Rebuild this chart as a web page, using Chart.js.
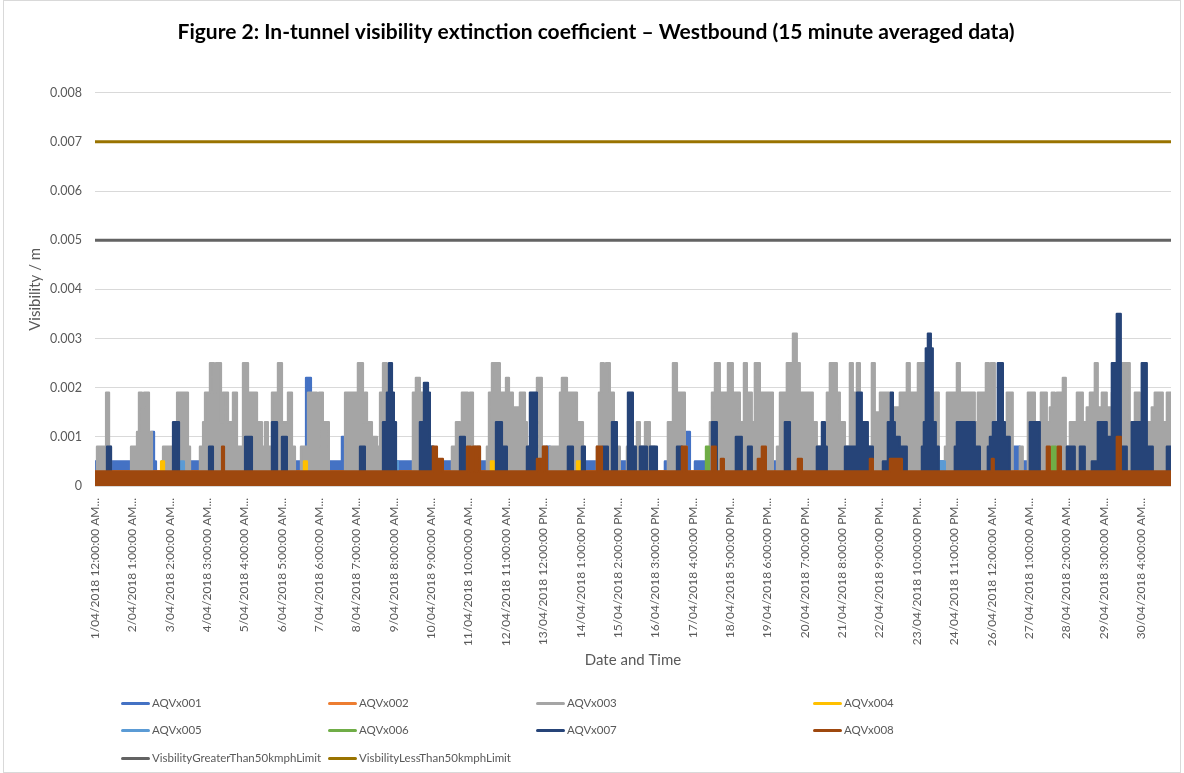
<!DOCTYPE html>
<html>
<head>
<meta charset="UTF-8">
<title>Figure 2</title>
<script src="https://cdn.jsdelivr.net/npm/chart.js@4.4.1/dist/chart.umd.min.js"></script>
<style>
	body{margin:0;background:#fff;}
	#wrap{position:relative;width:1184px;height:773px;}
	#frame{position:absolute;left:3px;top:0;width:1176px;height:771px;border:1px solid #d9d9d9;}
	#myChart{position:absolute;left:0;top:0;}
	#legend{position:absolute;left:0;top:0;font-family:Lato;font-size:11.5px;color:#595959;}
	#legend .item{position:absolute;white-space:nowrap;line-height:14px;height:14px;}
	#legend .item i{display:inline-block;width:29px;height:3px;border-radius:2px;vertical-align:middle;margin-right:2px;margin-top:-2px;}
</style>
</head>
<body>
<div id="wrap">
	<div id="frame"></div>
	<canvas id="myChart" width="1184" height="773"></canvas>
	<div id="legend"></div>
</div>
<script>
	// x = hours since 1/04/2018 12:00 AM, each pair = [hour, value] held until the next pair
	var tickLabels = ["1/04/2018 12:00:00 AM...","2/04/2018 1:00:00 AM...","3/04/2018 2:00:00 AM...","4/04/2018 3:00:00 AM...",
		"5/04/2018 4:00:00 AM...","6/04/2018 5:00:00 AM...","7/04/2018 6:00:00 AM...","8/04/2018 7:00:00 AM...",
		"9/04/2018 8:00:00 AM...","10/04/2018 9:00:00 AM...","11/04/2018 10:00:00 AM...","12/04/2018 11:00:00 AM...",
		"13/04/2018 12:00:00 PM...","14/04/2018 1:00:00 PM...","15/04/2018 2:00:00 PM...","16/04/2018 3:00:00 PM...",
		"17/04/2018 4:00:00 PM...","18/04/2018 5:00:00 PM...","19/04/2018 6:00:00 PM...","20/04/2018 7:00:00 PM...",
		"21/04/2018 8:00:00 PM...","22/04/2018 9:00:00 PM...","23/04/2018 10:00:00 PM...","24/04/2018 11:00:00 PM...",
		"26/04/2018 12:00:00 AM...","27/04/2018 1:00:00 AM...","28/04/2018 2:00:00 AM...","29/04/2018 3:00:00 AM...",
		"30/04/2018 4:00:00 AM..."];
	var seriesNames = ["AQVx001","AQVx002","AQVx003","AQVx004","AQVx005","AQVx006","AQVx007","AQVx008"];
	var endHour = 720;

	var aqv001 = [[0,0.0005],[38.1,0.0011],[39.5,0.0005],[40.8,0],[44.8,0.0005],[141.2,0.0022],[144.5,0.0005],[165.2,0.001],[167.3,0.0005],
		[302.4,0.0008],[304.4,0.0005],[374.6,0],[381.3,0.0005],[394.7,0.0011],[398.1,0],[401.4,0.0005],[614.8,0.0008],[618.8,0],[620.8,0.0005]];
	var aqv002 = [[0,0.0003]];
	var aqv003 = [[0,0],[1.3,0.0008],[7.4,0.0019],[9.4,0.0008],[10.7,0],[24.1,0.0008],[28.1,0.0011],[29.4,0.0019],[31.4,0.0016],[32.8,0.0019],[36.1,0.0011],[38.1,0],
		[45.5,0.0008],[54.9,0.0019],[62.2,0.0008],[63.6,0],[70.2,0.0008],[72.3,0.0013],[73.6,0.0019],[76.9,0.0025],[79.6,0.0019],[80.9,0.0025],[84.3,0.0013],
		[85.6,0.0019],[89,0.0013],[92.3,0.0019],[95,0.0008],[99,0.0025],[102.4,0.0019],[108.4,0.0013],[111.7,0.0008],[113.7,0.0013],[115.7,0.0008],
		[118.4,0.0019],[122.4,0.0025],[125.1,0.0013],[129.1,0.0019],[131.8,0.0008],[133.8,0],
		[137.8,0.0008],[142.5,0.0019],[148.5,0.0008],[149.9,0.0019],[152.5,0.0013],[156.5,0],
		[167.3,0.0019],[175.9,0.0025],[179.3,0.0013],[180.6,0.0019],[182,0.0013],[185.3,0.001],[188.7,0.0008],[190.7,0.0019],[192.7,0.0025],[195.3,0.0019],[198,0.0013],[200.7,0],
		[212.7,0.0019],[214.7,0.0022],[217.4,0.0019],[220.8,0.0016],[224.1,0.0008],[226.8,0],
		[238.8,0.0008],[241.5,0.0013],[244.2,0.0008],[245.5,0.0019],[249.5,0.0013],[250.9,0.0019],[252.9,0.0008],[257.6,0],
		[262.2,0.0008],[263.6,0.0019],[265.6,0.0025],[270.9,0.0019],[275,0.0022],[277,0.0019],[279.6,0.0016],[284.3,0.0019],[287.7,0.0013],[289,0.0008],[295.7,0.0022],[299,0.0008],[302.4,0],
		[304.4,0.0008],[311.1,0.0019],[312.4,0.0022],[315.8,0.0019],[322.5,0.0013],[326.5,0.0008],[327.8,0],
		[335.8,0.0008],[337.2,0.0019],[338.5,0.0025],[340.5,0.0019],[341.9,0.0025],[344.5,0.0019],[347.2,0.0013],[349.2,0.0008],[351.2,0],
		[355.9,0.0008],[362.6,0.0013],[364.6,0.0008],[368,0.0013],[371.3,0.0008],[374.6,0],
		[383.3,0.0013],[386.7,0.0025],[389.4,0.0019],[394.7,0.0008],[396,0],
		[411.4,0.0013],[412.8,0.0019],[414.8,0.0025],[418.1,0.0019],[423.5,0.0025],[426.8,0.0019],[431.5,0.0013],[434.2,0.0025],[436.2,0.0019],[439.5,0.0013],[441.5,0.0025],[444.9,0.0019],[453.6,0],
		[456.3,0.0008],[458.3,0.0019],[462.9,0.0025],[467,0.0031],[469.6,0.0025],[471.6,0.0019],[480.3,0.0013],[483,0.0008],[489.7,0.0019],[491.7,0.0025],[496.4,0.0019],[498.4,0.0013],[501.8,0.0008],
		[505.1,0.0025],[507.1,0.0019],[509.8,0.0025],[511.8,0.0013],[517.1,0.0008],[519.8,0.0025],[521.8,0.0015],[525.2,0.0019],[531.9,0.0016],[538.5,0.0019],[543.2,0.0025],[545.2,0.0019],
		[550.6,0.0025],[555.3,0.0013],[562,0.0019],[564.6,0],
		[568.7,0.0008],[570,0.0019],[576.7,0.0025],[578.7,0.0019],[588.7,0.0013],[590.7,0.0019],[596.1,0.0025],[598.1,0.0019],[599.4,0.0025],[602.1,0.0013],[610.1,0.0019],[614.1,0],
		[618.8,0.0008],[620.8,0],
		[624.2,0.0019],[628.9,0.0013],[632.9,0.0019],[636.9,0.0013],[638.9,0.0016],[640.2,0.0019],[642.2,0.0016],[643.6,0.0019],[647.6,0.0022],[649.6,0.0008],[652.3,0.0013],
		[657,0.0019],[661,0.0013],[663.6,0.0016],[665.7,0.0019],[668.3,0.0013],[669,0.0025],[671,0.0016],[673.7,0.0019],[677,0.0016],[680.4,0.0019],[687.1,0.0025],[692.4,0.0013],
		[695.8,0.0019],[699.1,0.0013],[707.1,0.0016],[709.1,0.0019],[714.5,0.0013],[717.2,0.0019]];
	var aqv004 = [[0,0],[44.2,0.0005],[46.2,0],[139.8,0.0005],[141.8,0],[264.9,0.0005],[266.9,0],[322.5,0.0005],[325.8,0]];
	var aqv005 = [[0,0],[57.5,0.0005],[59.5,0],[200.7,0.0005],[202.7,0],[564.6,0.0005],[568.7,0]];
	var aqv006 = [[0,0],[408.8,0.0008],[410.8,0],[640.2,0.0008],[642.9,0]];
	var aqv007 = [[0,0],[8,0.0008],[10.7,0],[52.2,0.0013],[56.2,0],[76.3,0.0008],[78.9,0],[100.4,0.001],[105,0],[118.4,0.0013],[121.8,0],[125.1,0.001],[128.4,0],
		[177.3,0.0008],[180.6,0],[192.7,0.0013],[195.3,0.0019],[196.7,0.0025],[198.7,0.0019],[200,0.0013],[201.4,0],
		[217.4,0.0013],[220.1,0.0021],[222.8,0.0019],[224.1,0.0008],[226.1,0],[244.2,0.001],[247.5,0],
		[268.3,0.0013],[272.3,0.0008],[275.6,0],[289,0.0008],[291,0.0019],[295.7,0],
		[316.4,0.0008],[319.8,0],[325.8,0.0008],[327.8,0],[339.9,0.0008],[343.2,0],[345.9,0.0013],[349.2,0],
		[356.6,0.0019],[359.9,0.0008],[361.9,0],[364.6,0.0008],[369.3,0],[371.3,0.0008],[376,0],
		[389.4,0.0008],[392.7,0],[412.8,0.0013],[416.1,0],[428.8,0.001],[432.8,0],[436.9,0.0008],[439.5,0],
		[461.6,0.0013],[465,0],[483,0.0008],[486.4,0.0013],[488.4,0.0008],[489.7,0],
		[501.8,0.0008],[509.8,0.0019],[513.1,0.0013],[517.1,0.0008],[520.5,0],
		[527.2,0.0005],[530.5,0.0013],[532.5,0.0019],[533.9,0.0013],[535.2,0.001],[538.5,0.0008],[543.2,0],
		[553.3,0.0008],[554.6,0.0013],[555.9,0.0028],[557.3,0.0031],[559.3,0.0028],[560.6,0.0013],[562.6,0.0008],[564.6,0],
		[575.3,0.0008],[576.7,0.0013],[588.7,0.0008],[592.1,0],
		[597.4,0.0008],[598.8,0.001],[600.8,0.0013],[604.1,0.0025],[607.5,0.0013],[608.8,0.001],[612.1,0],
		[625.5,0.0013],[632.2,0],[650.3,0.0008],[655.6,0],[659,0.0008],[662.3,0],
		[667,0.0005],[671,0.0013],[677,0.001],[680.4,0.0025],[683.7,0.0035],[686.4,0.0008],[690.4,0],
		[693.7,0.0013],[700.4,0.0025],[703.8,0.0008],[707.8,0],[717.2,0.0008]];
	var aqv008 = [[0,0.0003],[85,0.0008],[86.3,0.0003],[226.1,0.0008],[228.8,0.00055],[232.8,0.0003],[248.9,0.0008],[251.5,0.0003],[252.9,0.0008],[254.9,0.0003],
		[255.6,0.0008],[257.6,0.0003],[295.7,0.00055],[299,0.0003],[299.7,0.0008],[302.4,0.0003],[335.8,0.0008],[339.2,0.0003],[392.7,0.0008],[396,0.0003],
		[412.8,0.0008],[415.4,0.0003],[418.8,0.00055],[420.8,0.0003],[443.5,0.00055],[446.2,0.0008],[448.9,0.0003],[470.3,0.00055],[473,0.0003],
		[518.5,0.00055],[520.5,0.0003],[531.9,0.00055],[539.9,0.0003],[600.1,0.00055],[601.4,0.0003],[636.9,0.0008],[638.9,0.0003],[644.2,0.0008],[646.3,0.0003],
		[683.7,0.001],[686.4,0.0003]];
	var greaterLimit = 0.005;
	var lessLimit = 0.007;

	var colors = ["#4472C4","#ED7D31","#A5A5A5","#FFC000","#5B9BD5","#70AD47","#264478","#9E480E"];
	var allSeries = [aqv001,aqv002,aqv003,aqv004,aqv005,aqv006,aqv007,aqv008];

	//每段数值保持到下一个点
	function toPoints(list){
		var pts = list.map(function(p){ return {x:p[0], y:p[1]}; });
		pts.push({x:endHour, y:list[list.length-1][1]});
		return pts;
	}

	var datasets = [];
	for(var i=0;i<allSeries.length;i++){
		datasets.push({
			label: seriesNames[i],
			data: toPoints(allSeries[i]),
			borderColor: colors[i],
			backgroundColor: colors[i],
			borderWidth: 2.25,
			stepped: true,
			fill: 'origin',
			pointRadius: 0,
			borderJoinStyle: 'round',
			borderCapStyle: 'round',
			order: 10 - i
		});
	}
	datasets.push({label:"VisbilityGreaterThan50kmphLimit", data:[{x:0,y:greaterLimit},{x:endHour,y:greaterLimit}],
		borderColor:"#636363", backgroundColor:"#636363", borderWidth:3, pointRadius:0, fill:false, order:1});
	datasets.push({label:"VisbilityLessThan50kmphLimit", data:[{x:0,y:lessLimit},{x:endHour,y:lessLimit}],
		borderColor:"#997300", backgroundColor:"#997300", borderWidth:3, pointRadius:0, fill:false, order:0});

	var grey = "#595959";
	var ctx = document.getElementById('myChart').getContext('2d');
	var myChart = new Chart(ctx, {
		type: 'line',
		data: { datasets: datasets },
		options: {
			responsive: false,
			animation: false,
			layout: { padding: { left: 21, right: 13, top: 0, bottom: 98 } },
			plugins: {
				legend: { display: false },
				tooltip: { enabled: false },
				title: {
					display: true,
					text: "Figure 2: In-tunnel visibility extinction coefficient \u2013 Westbound (15 minute averaged data)",
					color: "#000",
					font: { family: "Lato", size: 21, weight: "bold" },
					padding: { top: 20, bottom: 47.5 }
				}
			},
			scales: {
				x: {
					type: 'linear',
					min: 0,
					max: endHour,
					grid: { display: false },
					border: { display: false },
					afterBuildTicks: function(scale){
						// one label every 100 samples (25 h)
						scale.ticks = tickLabels.map(function(t, k){ return {value: k*25}; });
					},
					afterFit: function(scale){ scale.height = 189; },
					ticks: {
						autoSkip: false,
						minRotation: 90,
						maxRotation: 90,
						padding: 4,
						color: grey,
						font: { family: "Lato", size: 12 },
						callback: function(v, idx){ return tickLabels[idx]; }
					},
					title: {
						display: true,
						text: "Date and Time",
						color: grey,
						font: { family: "Lato", size: 15 },
						padding: { top: 0, bottom: 6 }
					}
				},
				y: {
					min: 0,
					max: 0.008,
					grid: { color: "#d9d9d9", drawTicks: false },
					border: { display: false },
					afterFit: function(scale){ scale.width = 74; },
					ticks: {
						stepSize: 0.001,
						padding: 13,
						color: grey,
						font: { family: "Lato", size: 12.5 },
						callback: function(v){ return v == 0 ? "0" : v.toFixed(3); }
					},
					title: {
						display: true,
						text: "Visibility / m",
						color: grey,
						font: { family: "Lato", size: 15 },
						padding: { top: 5, bottom: 0 }
					}
				}
			}
		}
	});

	//图例（三行四列）
	var slots = [[121,696],[328,696],[536,696],[813,696],[121,723],[328,723],[536,723],[813,723],[121,751],[328,751]];
	var html = "";
	for(var k=0;k<datasets.length;k++){
		html += '<div class="item" style="left:'+slots[k][0]+'px;top:'+slots[k][1]+'px"><i style="background:'+datasets[k].borderColor+'"></i>'+datasets[k].label+'</div>';
	}
	document.getElementById("legend").innerHTML = html;
</script>
</body>
</html>
